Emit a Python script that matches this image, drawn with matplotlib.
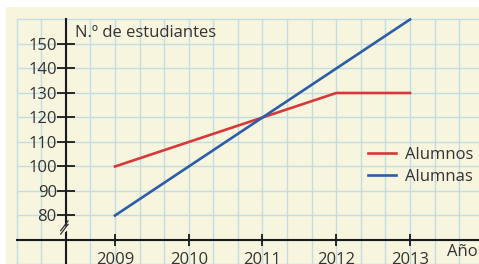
import matplotlib.pyplot as plt
import numpy as np

# data
years = [2009, 2010, 2011, 2012, 2013]
alumnos = [100, 110, 120, 130, 130]
alumnas = [80, 100, 120, 140, 160]
y_ticks = [80, 90, 100, 110, 120, 130, 140, 150]

cream = '#f7f5de'
grid_col = '#c3dde2'
red = '#d8383a'
blue = '#2c5da6'

plt.rcParams['font.family'] = ['Open Sans', 'DejaVu Sans']

fig = plt.figure(figsize=(4.79, 2.64), dpi=100)
fig.patch.set_facecolor('white')
ax = fig.add_axes([6 / 479, 0, 473 / 479, 257 / 264])
ax.set_facecolor(cream)
x_lo, x_hi = 2007.522, 2013.936
y_lo, y_hi = 60.2, 165.1
ax.set_xlim(x_lo, x_hi)
ax.set_ylim(y_lo, y_hi)

# squared paper grid (stops at the 160 line and the first column)
grid_x = np.arange(2007 + 2 / 3, 2014, 1 / 3)
grid_y = np.arange(60, 170, 10)
ax.vlines(grid_x, y_lo, 160, color=grid_col, linewidth=1.0, zorder=0)
ax.hlines(grid_y, grid_x[0], x_hi, color=grid_col, linewidth=1.0, zorder=0)

# axes through the origin of the chart
y_axis_x = 2008 + 1 / 3
ax.spines['left'].set_position(('data', y_axis_x))
ax.spines['bottom'].set_position(('data', 70))
ax.spines['left'].set_bounds(y_lo, 160)
ax.spines['bottom'].set_bounds(grid_x[0], x_hi)
ax.spines['top'].set_visible(False)
ax.spines['right'].set_visible(False)
for s in ('left', 'bottom'):
    ax.spines[s].set_linewidth(1.5)
    ax.spines[s].set_color('#1a1a1a')

ax.set_xticks(years)
ax.set_yticks(y_ticks)
ax.tick_params(direction='inout', width=1.3, color='#1a1a1a',
               labelsize=12, labelcolor='#333333')
ax.tick_params(axis='y', length=13, pad=0)
ax.tick_params(axis='x', length=9, pad=4.5)

ax.plot(years, alumnos, color=red, linewidth=1.9, label='Alumnos', zorder=3)
ax.plot(years, alumnas, color=blue, linewidth=1.9, label='Alumnas', zorder=3)

# axis break on y axis
ax.plot([y_axis_x - 0.035, y_axis_x + 0.035], [73.6, 75.4], color=cream,
        linewidth=3, zorder=4)
for dy in (0, 1.4):
    ax.plot([y_axis_x - 0.07, y_axis_x + 0.03], [72.4 + dy, 76.4 + dy],
            color='#333333', linewidth=0.9, zorder=5)

ax.text(2008.46, 154.6, 'N.º de estudiantes', fontsize=12, color='#333333',
        va='center', ha='left')
ax.text(2013.50, 65.0, 'Año', fontsize=12, color='#333333',
        va='center', ha='left')

ax.legend(loc='center left', bbox_to_anchor=(2012.43, 100.2),
          bbox_transform=ax.transData, frameon=False, fontsize=12,
          handlelength=1.7, handletextpad=0.5, labelspacing=0.35,
          labelcolor='#333333', borderpad=0, borderaxespad=0)

fig.savefig('out.png', dpi=100, facecolor='white')
